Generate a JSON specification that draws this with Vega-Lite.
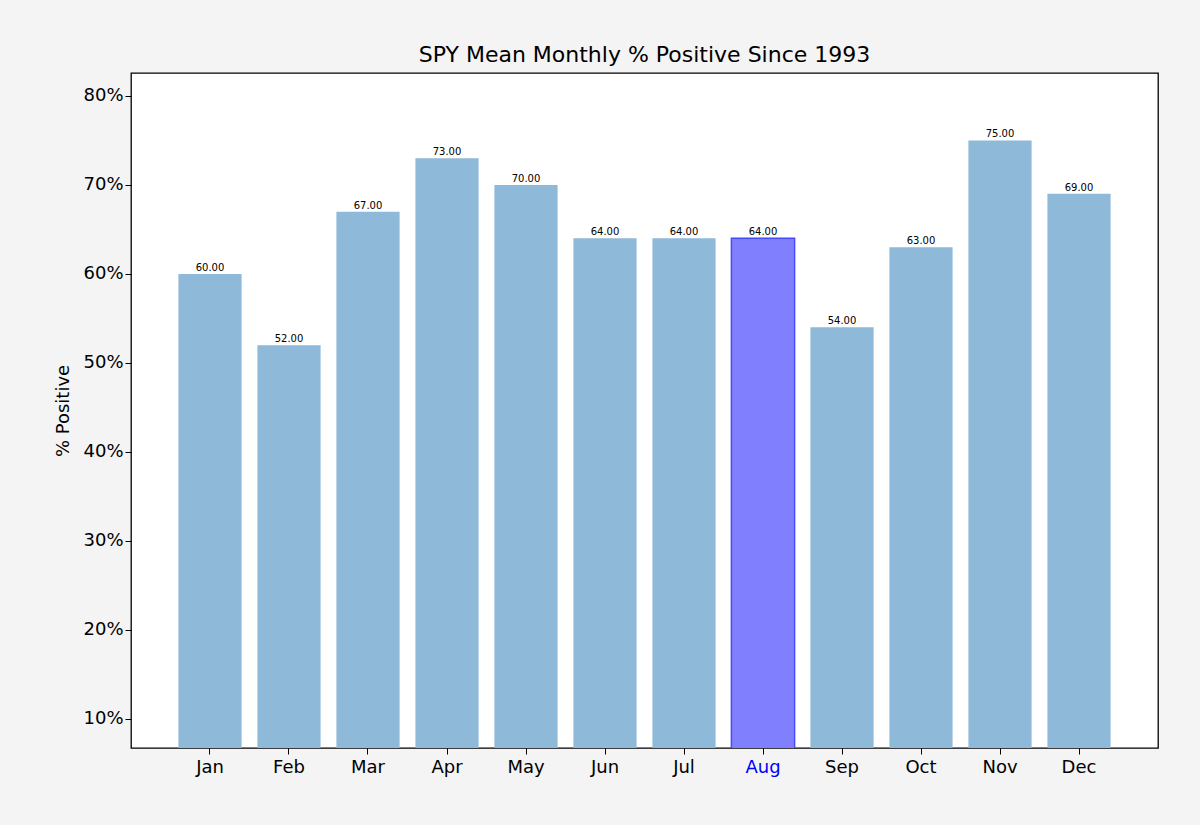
{
"$schema":"https://vega.github.io/schema/vega-lite/v6.json",
"autosize":{"type":"none"},
"padding":{"left":131,"top":73,"right":42,"bottom":77},
"width":1027,"height":675,
"background":"#f4f4f4",
"view":{"fill":"white","stroke":"black","strokeWidth":1.3},
"title":{"text":"SPY Mean Monthly % Positive Since 1993","font":"DejaVu Sans","fontSize":22,"fontWeight":"normal","color":"black","offset":6},
"data":{"values":[
{"m":"Jan","v":60},{"m":"Feb","v":52},{"m":"Mar","v":67},{"m":"Apr","v":73},{"m":"May","v":70},{"m":"Jun","v":64},
{"m":"Jul","v":64},{"m":"Aug","v":64},{"m":"Sep","v":54},{"m":"Oct","v":63},{"m":"Nov","v":75},{"m":"Dec","v":69}]},
"encoding":{
"x":{"field":"m","type":"nominal","sort":null,"scale":{"paddingInner":0.2,"paddingOuter":0.6},
"axis":{"title":null,"labelAngle":0,"labelFont":"DejaVu Sans","labelFontSize":18,"labelColor":{"condition":{"test":"datum.value==='Aug'","value":"blue"},"value":"black"},"tickColor":"black","tickSize":6,"domain":false,"labelPadding":4}},
"y":{"field":"v","type":"quantitative","scale":{"domain":[6.74,82.58],"nice":false,"zero":false},
"axis":{"title":"% Positive","titleFont":"DejaVu Sans","titleFontSize":18,"titleFontWeight":"normal","titleColor":"black","values":[10,20,30,40,50,60,70,80],"labelExpr":"datum.value+'%'","labelFont":"DejaVu Sans","labelFontSize":18,"labelColor":"black","grid":false,"tickColor":"black","tickSize":6,"domain":false,"titlePadding":10}}
},
"layer":[
{"mark":{"type":"bar","clip":true},"encoding":{
"color":{"condition":{"test":"datum.m==='Aug'","value":"#8080ff"},"value":"#8fb9d8"},
"stroke":{"condition":{"test":"datum.m==='Aug'","value":"#4848ff"},"value":null},
"strokeWidth":{"value":1.5}}},
{"mark":{"type":"text","dy":-6,"fontSize":10,"font":"DejaVu Sans","color":"black"},"encoding":{"text":{"field":"v","format":".2f"}}}
]
}
